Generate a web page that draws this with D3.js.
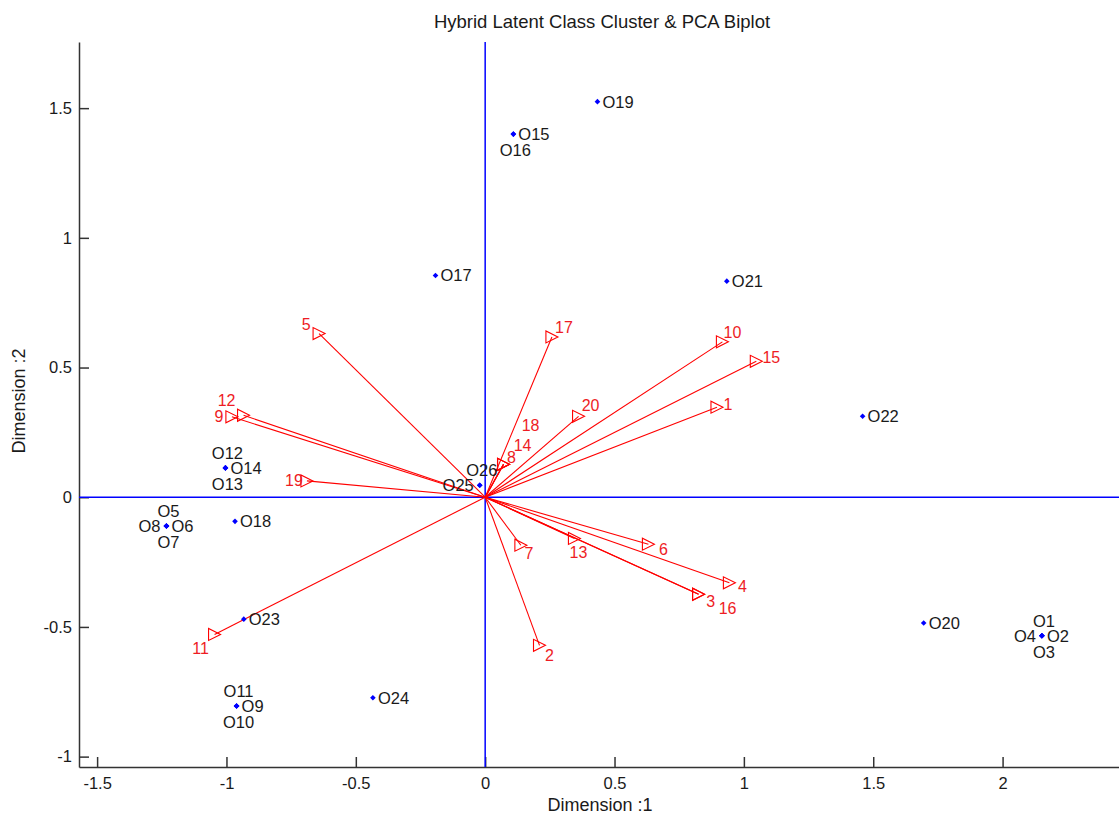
<!DOCTYPE html>
<html>
<head>
<meta charset="utf-8">
<script src="https://cdn.jsdelivr.net/npm/d3@7"></script>
<style>
  body { margin: 0; background: #fff; }
  svg { font-family: "Liberation Sans", Arial, sans-serif; }
</style>
</head>
<body>
<div id="chart"></div>
<script>
// Hybrid latent class cluster & PCA biplot

// Observations (scores)
const obsNames = ['O1', 'O2', 'O3', 'O4', 'O5', 'O6', 'O7', 'O8', 'O9', 'O10', 'O11', 'O12', 'O13',
  'O14', 'O15', 'O16', 'O17', 'O18', 'O19', 'O20', 'O21', 'O22', 'O23', 'O24', 'O25', 'O26']
const obsDim1 = [2.152, 2.152, 2.152, 2.152, -1.232, -1.232, -1.232, -1.232, -0.961, -0.961, -0.961,
  -1.004, -1.004, -1.004, 0.109, 0.109, -0.192, -0.967, 0.434, 1.695, 0.934, 1.459, -0.933, -0.434,
  -0.021, -0.021]
const obsDim2 = [-0.534, -0.534, -0.534, -0.534, -0.111, -0.111, -0.111, -0.111, -0.805, -0.805, -0.805,
  0.113, 0.113, 0.113, 1.400, 1.400, 0.855, -0.093, 1.525, -0.485, 0.833, 0.312, -0.470, -0.773,
  0.046, 0.046]

// Variables (loadings)
const varNames = ['1', '2', '3', '4', '5', '6', '7', '8', '9', '10', '11', '12', '13', '14', '15',
  '16', '17', '18', '19', '20']
const varDim1 = [0.896, 0.210, 0.825, 0.944, -0.642, 0.631, 0.138, 0.071, -0.979, 0.917, -1.046,
  -0.934, 0.345, 0.071, 1.048, 0.825, 0.258, 0.071, -0.689, 0.361]
const varDim2 = [0.347, -0.571, -0.374, -0.330, 0.631, -0.181, -0.185, 0.127, 0.310, 0.599, -0.529,
  0.316, -0.159, 0.127, 0.524, -0.374, 0.618, 0.127, 0.063, 0.312]

const xTicks = [-1.5, -1, -0.5, 0, 0.5, 1, 1.5, 2]
const yTicks = [-1, -0.5, 0, 0.5, 1, 1.5]

// Label placement (layout only): side of the point the label sits on
const obsSide = { O1: 't', O2: 'r', O3: 'b', O4: 'l', O5: 't', O6: 'r', O7: 'b', O8: 'l',
  O9: 'r', O10: 'b', O11: 't', O12: 't', O13: 'b', O14: 'r', O15: 'r', O16: 'b', O25: 'l', O26: 't' }
// offsets of variable labels from arrow tips, in px
const varOffset = { 1: [11, -3], 2: [10, 10], 3: [12, 7], 4: [13, 4], 5: [-13, -9], 6: [15, 5],
  7: [8, 8], 8: [8, -7], 9: [-13, 0], 10: [10, -9], 11: [-14, 14], 12: [-17, -15], 13: [4, 14],
  14: [19, -19], 15: [15, -4], 16: [29, 14], 17: [12, -9], 18: [27, -39], 19: [-13, 0], 20: [12, -11] }

const width = 1119
const height = 816
const margin = { top: 42, right: 0, bottom: 49, left: 79 }

const svg = d3.select('#chart')
  .append('svg')
  .attr('width', width)
  .attr('height', height)

const x = d3.scaleLinear()
  .domain([-1.57, 2.45])
  .range([margin.left, width - margin.right])

const y = d3.scaleLinear()
  .domain([-1.04, 1.755])
  .range([height - margin.bottom, margin.top])

// Axes (ticks inside)
const xAxis = svg.append('g')
  .attr('transform', `translate(0, ${y.range()[0]})`)
  .call(d3.axisBottom(x).tickValues(xTicks).tickFormat(d => String(d))
    .tickSizeInner(-10).tickSizeOuter(0).tickPadding(10))

const yAxis = svg.append('g')
  .attr('transform', `translate(${x.range()[0]}, 0)`)
  .call(d3.axisLeft(y).tickValues(yTicks).tickFormat(d => String(d))
    .tickSizeInner(-10).tickSizeOuter(0).tickPadding(7))

svg.selectAll('.domain, .tick line')
  .attr('stroke', '#333')
  .attr('stroke-width', 1.5)
svg.selectAll('.tick text')
  .attr('fill', '#1a1a1a')
  .style('font-size', '16.5px')
  .style('font-family', '"Liberation Sans", Arial, sans-serif')

// Zero lines
svg.append('line')
  .attr('x1', x(0)).attr('x2', x(0))
  .attr('y1', y.range()[0]).attr('y2', y.range()[1])
  .attr('stroke', '#0000ff')
  .attr('stroke-width', 1.5)

svg.append('line')
  .attr('x1', x.range()[0]).attr('x2', x.range()[1])
  .attr('y1', y(0)).attr('y2', y(0))
  .attr('stroke', '#0000ff')
  .attr('stroke-width', 1.5)

// Variable vectors
const vars = varNames.map((name, i) => ({ name, d1: varDim1[i], d2: varDim2[i] }))

const vec = svg.append('g')
  .selectAll('g')
  .data(vars)
  .enter().append('g')

vec.append('line')
  .attr('x1', x(0)).attr('y1', y(0))
  .attr('x2', d => x(d.d1)).attr('y2', d => y(d.d2))
  .attr('stroke', '#ff0000')
  .attr('stroke-width', 1.1)

vec.append('path')
  .attr('d', 'M-6,-6L-6,6L6,0Z')
  .attr('transform', d => `translate(${x(d.d1)}, ${y(d.d2)})`)
  .attr('fill', 'none')
  .attr('stroke', '#ff0000')
  .attr('stroke-width', 1.1)

vec.append('text')
  .attr('x', d => x(d.d1) + varOffset[d.name][0])
  .attr('y', d => y(d.d2) + varOffset[d.name][1])
  .attr('text-anchor', 'middle')
  .attr('dominant-baseline', 'central')
  .attr('fill', '#ee1c24')
  .style('font-size', '16px')
  .text(d => d.name)

// Observations
const obs = obsNames.map((name, i) => ({ name, d1: obsDim1[i], d2: obsDim2[i], side: obsSide[name] || 'r' }))

svg.append('g')
  .selectAll('path')
  .data(obs)
  .enter().append('path')
  .attr('d', 'M0,-2.8L2.8,0L0,2.8L-2.8,0Z')
  .attr('transform', d => `translate(${x(d.d1)}, ${y(d.d2)})`)
  .attr('fill', '#0000ff')

const labelX = { r: 5, l: -6, t: 2, b: 2 }
const labelY = { r: 0, l: 0, t: -15, b: 16 }
const labelAnchor = { r: 'start', l: 'end', t: 'middle', b: 'middle' }

svg.append('g')
  .selectAll('text')
  .data(obs)
  .enter().append('text')
  .attr('x', d => x(d.d1) + labelX[d.side])
  .attr('y', d => y(d.d2) + labelY[d.side])
  .attr('text-anchor', d => labelAnchor[d.side])
  .attr('dominant-baseline', 'central')
  .attr('fill', '#1a1a1a')
  .style('font-size', '16.5px')
  .text(d => d.name)

// Title and axis labels
svg.append('text')
  .attr('x', 602)
  .attr('y', 28)
  .attr('text-anchor', 'middle')
  .attr('fill', '#1a1a1a')
  .style('font-size', '18.5px')
  .text('Hybrid Latent Class Cluster & PCA Biplot')

svg.append('text')
  .attr('x', 600)
  .attr('y', 811)
  .attr('text-anchor', 'middle')
  .attr('fill', '#1a1a1a')
  .style('font-size', '18px')
  .text('Dimension :1')

svg.append('text')
  .attr('transform', 'translate(25, 401) rotate(-90)')
  .attr('text-anchor', 'middle')
  .attr('fill', '#1a1a1a')
  .style('font-size', '18px')
  .text('Dimension :2')
</script>
</body>
</html>
